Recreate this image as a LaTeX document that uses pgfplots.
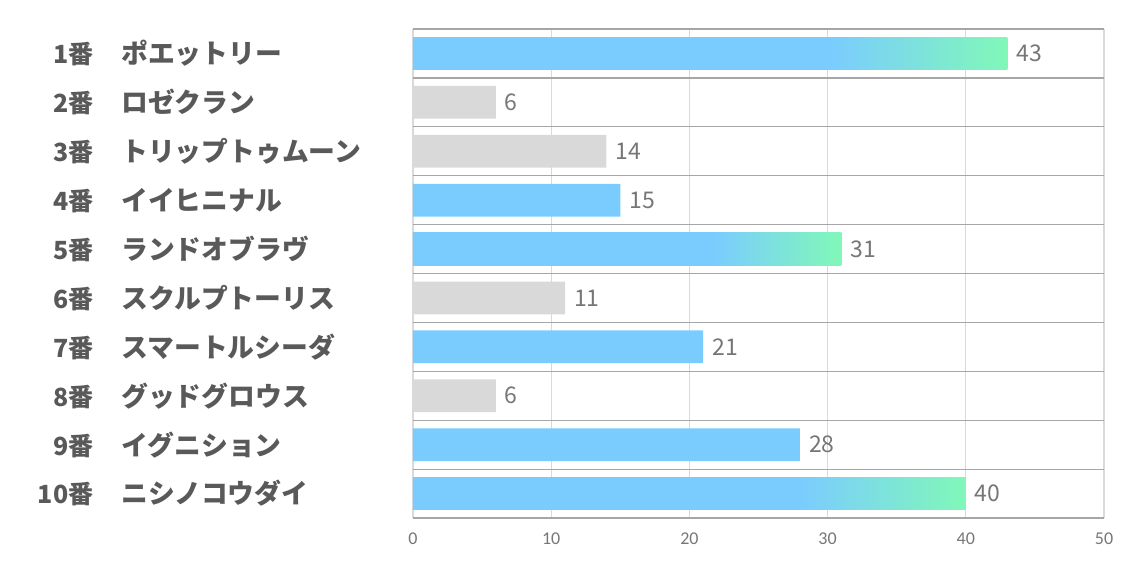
\documentclass[border=0pt]{standalone}
\usepackage{pgfplots}
\pgfplotsset{compat=1.18}
\usepackage{fontspec}
\setmainfont{Noto Sans CJK JP}
\newfontfamily\tickfont{Carlito}
\usetikzlibrary{calc}

\definecolor{barblue}{RGB}{122,204,255}
\definecolor{bargreen}{RGB}{128,248,184}
\definecolor{bargray}{RGB}{217,217,217}
\definecolor{rowline}{RGB}{166,166,166}
\definecolor{colline}{RGB}{217,217,217}
\definecolor{labgray}{RGB}{118,118,118}
\definecolor{catgray}{RGB}{89,89,89}

% blue for the first 70% of a bar, then fading to green
\pgfdeclarehorizontalshading{barfade}{100bp}{color(0bp)=(barblue); color(60bp)=(barblue); color(75bp)=(bargreen); color(100bp)=(bargreen)}

\newcommand{\cat}[2]{\makebox[26.5pt][r]{#1番}\hspace{14pt}{\fontsize{13.4}{14}\selectfont #2}}

\begin{document}
\begin{tikzpicture}
\begin{axis}[
    name=ax,
    scale only axis,
    width=345.5pt, height=244.5pt,
    xbar, bar shift=0pt, bar width=0.67,
    xmin=0, xmax=50,
    ymin=0.5, ymax=10.5,
    y dir=reverse,
    /pgf/number format/assume math mode=true,
    xtick={0,10,20,30,40,50},
    ytick={1,...,10},
    yticklabels={\cat{1}{ポエットリー},\cat{2}{ロゼクラン},\cat{3}{トリップトゥムーン},\cat{4}{イイヒニナル},\cat{5}{ランドオブラヴ},\cat{6}{スクルプトーリス},\cat{7}{スマートルシーダ},\cat{8}{グッドグロウス},\cat{9}{イグニション},\cat{10}{ニシノコウダイ}},
    minor ytick={0.5,1.5,...,10.5},
    xmajorgrids, yminorgrids,
    major grid style={colline, line width=0.6pt},
    minor grid style={rowline, line width=0.6pt},
    axis line style={draw=none},
    major tick length=0pt, minor tick length=0pt,
    tick style={draw=none},
    xticklabel style={font=\tickfont\fontsize{9}{10}\selectfont, text=labgray, yshift=-4pt},
    yticklabel style={font=\fontsize{12.5}{14}\selectfont\bfseries, text=catgray, anchor=west, inner sep=0pt, xshift=-186.5pt},
    nodes near coords,
    nodes near coords style={font=\fontsize{11.5}{13}\selectfont, text=labgray, anchor=west, xshift=1pt},
    every axis plot/.append style={draw=none},
    clip=false,
]
% gray bars
\addplot[fill=bargray] coordinates {(6,2) (14,3) (11,6) (6,8)};
% plain blue bars
\addplot[fill=barblue] coordinates {(15,4) (21,7) (28,9)};
% bars fading to green, one plot each so every bar gets its own shading
\addplot[shading=barfade] coordinates {(43,1)};
\addplot[shading=barfade] coordinates {(31,5)};
\addplot[shading=barfade] coordinates {(40,10)};
\end{axis}
\path ($(ax.south west)+(-206.5pt,-24.5pt)$) rectangle ($(ax.north east)+(15pt,14.5pt)$);
\end{tikzpicture}
\end{document}
